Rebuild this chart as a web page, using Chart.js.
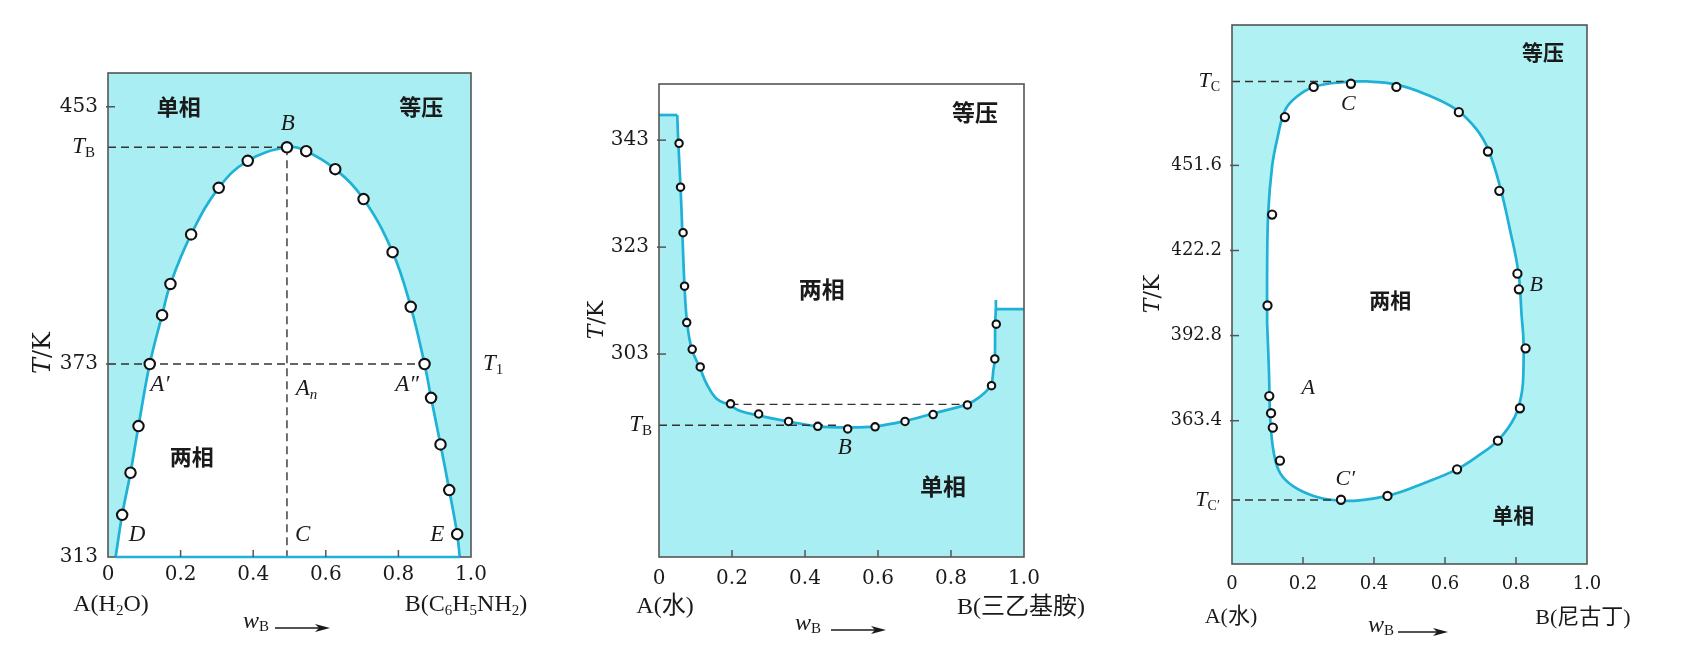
<!DOCTYPE html>
<html><head><meta charset="utf-8">
<script src="https://cdn.jsdelivr.net/npm/chart.js@4.4.0/dist/chart.umd.min.js"></script>
<style>
html,body{margin:0;padding:0;background:#fff;width:1702px;height:671px;overflow:hidden}
canvas{position:absolute;left:0;top:0}
</style></head><body>
<canvas id="c1" width="1702" height="671"></canvas>
<canvas id="c2" width="1702" height="671"></canvas>
<canvas id="c3" width="1702" height="671"></canvas>
<script>
// ---------- data ----------
const xTicks = [0, 0.2, 0.4, 0.6, 0.8, 1.0];

// chart 1: water - aniline
const c1YTicks = [313, 373, 453];
const c1TB = 440.4, c1T1 = 373, c1xB = 0.493;
const c1CurveX = [0.021, 0.039, 0.062, 0.084, 0.115, 0.149, 0.172, 0.229, 0.305, 0.385, 0.493, 0.546, 0.626, 0.704, 0.784, 0.834, 0.872, 0.890, 0.916, 0.940, 0.962, 0.969];
const c1CurveT = [313, 326.1, 339.2, 353.7, 373, 388.2, 397.9, 413.3, 427.8, 436.2, 440.4, 439.2, 433.6, 424.3, 407.8, 390.8, 373, 362.5, 348.0, 333.8, 320.1, 313];
const c1PtsX = [0.039, 0.062, 0.084, 0.115, 0.149, 0.172, 0.229, 0.305, 0.385, 0.493, 0.546, 0.626, 0.704, 0.784, 0.834, 0.872, 0.890, 0.916, 0.940, 0.962];
const c1PtsT = [326.1, 339.2, 353.7, 373, 388.2, 397.9, 413.3, 427.8, 436.2, 440.4, 439.2, 433.6, 424.3, 407.8, 390.8, 373, 362.5, 348.0, 333.8, 320.1];

// chart 2: water - triethylamine
const c2YTicks = [303, 323, 343];
const c2TB = 289.7, c2Tie = 293.6;
const c2LeftEdgeX = [0, 0.050], c2LeftEdgeT = [347.7, 347.7];
const c2LeftFillX = [0, 0.050, 0.054], c2LeftFillT = [347.7, 347.7, 330.0];
const c2CurveX = [0.050, 0.053, 0.059, 0.064, 0.070, 0.077, 0.090, 0.113, 0.130, 0.157, 0.192, 0.221, 0.267, 0.355, 0.435, 0.514, 0.592, 0.674, 0.751, 0.843, 0.879, 0.909, 0.916, 0.920, 0.921, 0.923];
const c2CurveT = [347.7, 342.4, 334.3, 325.7, 315.6, 308.9, 303.9, 300.3, 297.5, 294.7, 293.5, 292.4, 291.6, 290.4, 289.5, 289.3, 289.5, 290.5, 291.9, 293.6, 295.0, 297.2, 300.0, 302.1, 308.7, 311.4];
const c2RightEdgeX = [0.923, 0.923, 1.0], c2RightEdgeT = [313.1, 311.4, 311.4];
const c2RightFillX = [0.918, 0.923, 1.0], c2RightFillT = [300.0, 311.4, 311.4];
const c2PtsX = [0.055, 0.059, 0.066, 0.070, 0.076, 0.091, 0.113, 0.196, 0.273, 0.355, 0.435, 0.517, 0.592, 0.674, 0.751, 0.845, 0.911, 0.920, 0.924];
const c2PtsT = [342.4, 334.2, 325.7, 315.7, 308.9, 303.9, 300.6, 293.7, 291.8, 290.4, 289.5, 289.0, 289.4, 290.4, 291.7, 293.5, 297.1, 302.1, 308.6];

// chart 3: water - nicotine
const c3YTicks = [363.4, 392.8, 422.2, 451.6];
const c3TC = 480.6, c3TC2 = 336.0;
const c3LoopX = [0.099, 0.099, 0.102, 0.113, 0.127, 0.150, 0.183, 0.230, 0.305, 0.380, 0.465, 0.549, 0.633, 0.690, 0.722, 0.755, 0.783, 0.807, 0.816, 0.821, 0.821, 0.816, 0.797, 0.750, 0.690, 0.633, 0.540, 0.446, 0.352, 0.286, 0.230, 0.174, 0.136, 0.118, 0.108, 0.104, 0.099];
const c3LoopT = [397.0, 416.7, 435.2, 451.3, 460.5, 470.8, 475.4, 478.7, 480.3, 480.6, 479.5, 476.0, 470.8, 463.9, 457.0, 444.3, 429.4, 414.4, 399.4, 391.3, 380.9, 372.9, 364.8, 356.7, 351.0, 346.6, 341.8, 337.7, 335.8, 336.0, 337.4, 340.6, 345.2, 352.1, 363.6, 380.9, 397.0];
const c3PtsX = [0.230, 0.335, 0.463, 0.639, 0.721, 0.753, 0.804, 0.808, 0.827, 0.811, 0.749, 0.634, 0.438, 0.307, 0.135, 0.115, 0.110, 0.105, 0.100, 0.113, 0.149];
const c3PtsT = [478.7, 479.8, 478.7, 470.0, 456.4, 442.8, 414.2, 408.8, 388.4, 367.7, 356.5, 346.6, 337.4, 336.1, 349.6, 361.0, 366.0, 371.9, 403.2, 434.6, 468.3];

// ---------- styles ----------
const CYAN = '#a9eef2', CYAN3 = '#b0f1f4', LINE = '#1fb1d6', FRAME = '#555', INK = '#1a1a1a';
const R = s => `${s}px "DejaVu Serif", "Noto Sans CJK SC"`;
const L = s => `${s}px "Liberation Serif", "Noto Sans CJK SC"`;
const I = s => `italic ${s}px "Liberation Serif"`;
const DI = s => `italic ${s}px "DejaVu Serif"`;
const H = s => `bold ${s}px "Noto Sans CJK SC"`;
const pts = (xs, ys) => xs.map((x, i) => ({x, y: ys[i]}));

function drawRich(ctx, parts, x, y, align) {
  let w = 0;
  for (const p of parts) { ctx.font = p[1]; w += ctx.measureText(p[0]).width; }
  let cx = align === 'right' ? x - w : align === 'left' ? x : x - w / 2;
  ctx.textAlign = 'left'; ctx.textBaseline = 'middle';
  for (const p of parts) { ctx.font = p[1]; ctx.fillText(p[0], cx, y + (p[2] || 0)); cx += ctx.measureText(p[0]).width; }
}
function drawArrow(ctx, x1, x2, y) {
  ctx.lineWidth = 1.4;
  ctx.beginPath(); ctx.moveTo(x1, y); ctx.lineTo(x2 - 6, y); ctx.stroke();
  ctx.beginPath(); ctx.moveTo(x2, y); ctx.lineTo(x2 - 15, y - 4); ctx.lineTo(x2 - 11, y); ctx.lineTo(x2 - 15, y + 4); ctx.closePath(); ctx.fill();
}

const deco = {
  id: 'deco',
  beforeDatasetsDraw(chart, args, o) {
    const {ctx, chartArea: a} = chart;
    ctx.save(); ctx.fillStyle = o.bg; ctx.fillRect(a.left, a.top, a.right - a.left, a.bottom - a.top); ctx.restore();
  },
  afterDatasetsDraw(chart, args, o) {
    const {ctx, chartArea: a, scales: {x, y}} = chart;
    ctx.save();
    ctx.strokeStyle = FRAME; ctx.lineWidth = 1.6;
    ctx.strokeRect(a.left, a.top, a.right - a.left, a.bottom - a.top);
    if (o.foot) {
      ctx.strokeStyle = LINE; ctx.lineWidth = 2.6;
      ctx.beginPath(); ctx.moveTo(x.getPixelForValue(o.foot[0]), a.bottom); ctx.lineTo(x.getPixelForValue(o.foot[1]), a.bottom); ctx.stroke();
    }
    ctx.strokeStyle = FRAME; ctx.lineWidth = 1.5;
    x.ticks.forEach(t => {
      if (t.value <= x.min || t.value >= x.max) return;
      const px = x.getPixelForValue(t.value);
      ctx.beginPath(); ctx.moveTo(px, a.bottom); ctx.lineTo(px, a.bottom - 7); ctx.stroke();
    });
    y.ticks.forEach(t => {
      const py = y.getPixelForValue(t.value);
      if (py >= a.bottom - 1) return;
      ctx.beginPath(); ctx.moveTo(a.left - 2, py); ctx.lineTo(a.left + 7, py); ctx.stroke();
    });
    ctx.restore();
  },
  afterDraw(chart, args, o) {
    const {ctx, chartArea: a, scales: {x, y}} = chart;
    ctx.save(); ctx.fillStyle = INK; ctx.strokeStyle = INK;
    (o.notes || []).forEach(n => drawRich(ctx, n.p, x.getPixelForValue(n.x), y.getPixelForValue(n.y), 'center'));
    (o.side || []).forEach(s => {
      const px = s.edge === 'right' ? a.right + s.dx : a.left - s.dx;
      drawRich(ctx, s.p, px, y.getPixelForValue(s.v), s.edge === 'right' ? 'left' : 'right');
    });
    (o.caps || []).forEach(c => {
      if (c.rot) { ctx.save(); ctx.translate(c.px, c.py); ctx.rotate(-Math.PI / 2); drawRich(ctx, c.p, 0, 0, 'center'); ctx.restore(); }
      else drawRich(ctx, c.p, c.px, c.py, c.align || 'center');
    });
    if (o.arrow) drawArrow(ctx, o.arrow[0], o.arrow[1], o.arrow[2]);
    ctx.restore();
  }
};

function markers(xs, ys, r) {
  return {data: pts(xs, ys), showLine: false, pointRadius: r, pointBackgroundColor: '#fff', pointBorderColor: '#111', pointBorderWidth: 2.1, pointHoverRadius: r, order: 0};
}
function dashed(x1, x2, y1, y2) {
  return {data: [{x: x1, y: y1}, {x: x2, y: y2}], borderColor: '#333', borderWidth: 1.4, borderDash: [8, 5], pointRadius: 0, tension: 0, fill: false, order: 1};
}
function curve(xs, ys, tension, fill, bg, order, bw) {
  return {data: pts(xs, ys), borderColor: LINE, borderWidth: bw === undefined ? 2.7 : bw, tension, fill, backgroundColor: bg, pointRadius: 0, order};
}

function makeChart(id, c) {
  return new Chart(document.getElementById(id), {
    type: 'line',
    data: {datasets: c.datasets},
    options: {
      responsive: false, animation: false, events: [],
      layout: {padding: c.pad},
      plugins: {legend: {display: false}, tooltip: {enabled: false}, deco: c.deco},
      scales: {
        x: {
          type: 'linear', min: 0, max: 1,
          afterBuildTicks: s => { s.ticks = xTicks.map(v => ({value: v})); },
          afterFit: s => { s.height = 40; },
          grid: {display: false, drawTicks: false}, border: {display: false},
          ticks: {autoSkip: false, maxRotation: 0, padding: c.xpad, color: INK, font: {family: 'DejaVu Serif', size: c.fs}, callback: v => v === 0 ? '0' : v.toFixed(1)}
        },
        y: {
          type: 'linear', min: c.ymin, max: c.ymax,
          afterBuildTicks: s => { s.ticks = c.yTicks.map(v => ({value: v})); },
          afterFit: s => { s.width = 60; },
          grid: {display: false, drawTicks: false}, border: {display: false},
          ticks: {autoSkip: false, padding: c.ypad, color: INK, font: {family: 'DejaVu Serif', size: c.fs}, callback: v => String(v)}
        }
      }
    },
    plugins: [deco]
  });
}

// ---------- chart 1 ----------
makeChart('c1', {
  pad: {left: 48, top: 73, right: 1231, bottom: 74},
  ymin: 313, ymax: 463.5, yTicks: c1YTicks, fs: 20, xpad: 6, ypad: 10,
  datasets: [
    markers(c1PtsX, c1PtsT, 5.2),
    dashed(0, c1xB, c1TB, c1TB),
    dashed(c1xB, c1xB, c1TB, 313),
    dashed(0, c1CurveX[16], c1T1, c1T1),
    curve(c1CurveX, c1CurveT, 0.4, 'start', '#ffffff', 2)
  ],
  deco: {
    bg: CYAN, foot: [c1CurveX[0], c1CurveX[c1CurveX.length - 1]],
    notes: [
      {x: 0.195, y: 452.9, p: [['单相', H(22)]]},
      {x: 0.863, y: 452.9, p: [['等压', H(22)]]},
      {x: 0.495, y: 447.6, p: [['B', I(23)]]},
      {x: 0.143, y: 366.5, p: [['A′', I(23)]]},
      {x: 0.547, y: 365.2, p: [['A', I(23)], ['n', I(15), 6]]},
      {x: 0.824, y: 366.5, p: [['A″', I(23)]]},
      {x: 0.231, y: 344.1, p: [['两相', H(22)]]},
      {x: 0.080, y: 319.8, p: [['D', I(23)]]},
      {x: 0.536, y: 319.8, p: [['C', I(23)]]},
      {x: 0.907, y: 319.8, p: [['E', I(23)]]}
    ],
    side: [
      {v: c1TB, edge: 'left', dx: 13, p: [['T', I(23)], ['B', L(15), 6]]},
      {v: c1T1, edge: 'right', dx: 12, p: [['T', I(23)], ['1', L(15), 6]]}
    ],
    caps: [
      {rot: true, px: 43.5, py: 353, p: [['T', DI(24)], ['/K', R(24)]]},
      {px: 111, py: 605, p: [['A(H', L(24)], ['2', L(15), 6], ['O)', L(24)]]},
      {px: 466, py: 605, p: [['B(C', L(24)], ['6', L(15), 6], ['H', L(24)], ['5', L(15), 6], ['NH', L(24)], ['2', L(15), 6], [')', L(24)]]},
      {px: 243, py: 621.5, align: 'left', p: [['w', I(24)], ['B', L(15), 6]]}
    ],
    arrow: [275, 330, 628]
  }
});

// ---------- chart 2 ----------
makeChart('c2', {
  pad: {left: 599, top: 84, right: 678, bottom: 74},
  ymin: 265.06, ymax: 353.5, yTicks: c2YTicks, fs: 20, xpad: 10, ypad: 10,
  datasets: [
    markers(c2PtsX, c2PtsT, 3.7),
    dashed(0, 0.49, c2TB, c2TB),
    dashed(c2PtsX[7], c2PtsX[15], c2Tie, c2Tie),
    curve(c2CurveX, c2CurveT, 0.4, 'start', CYAN, 2),
    curve(c2LeftEdgeX, c2LeftEdgeT, 0, false, CYAN, 2),
    curve(c2RightEdgeX, c2RightEdgeT, 0, false, CYAN, 2),
    curve(c2LeftFillX, c2LeftFillT, 0, 'start', CYAN, 4, 0),
    curve(c2RightFillX, c2RightFillT, 0, 'start', CYAN, 4, 0)
  ],
  deco: {
    bg: '#ffffff',
    notes: [
      {x: 0.866, y: 348.2, p: [['等压', H(23)]]},
      {x: 0.446, y: 315.1, p: [['两相', H(23)]]},
      {x: 0.509, y: 285.4, p: [['B', I(23)]]},
      {x: 0.778, y: 278.3, p: [['单相', H(23)]]}
    ],
    side: [
      {v: c2TB, edge: 'left', dx: 7, p: [['T', I(23)], ['B', L(15), 6]]}
    ],
    caps: [
      {rot: true, px: 597, py: 320, p: [['T', DI(22)], ['/K', R(22)]]},
      {px: 665, py: 607, p: [['A(水)', L(24)]]},
      {px: 1021, py: 608, p: [['B(三乙基胺)', L(24)]]},
      {px: 795, py: 623.5, align: 'left', p: [['w', I(24)], ['B', L(15), 6]]}
    ],
    arrow: [831, 886, 630]
  }
});

// ---------- chart 3 ----------
makeChart('c3', {
  pad: {left: 1172, top: 25, right: 115, bottom: 67},
  ymin: 313.9, ymax: 500.1, yTicks: c3YTicks, fs: 18, xpad: 10, ypad: 10,
  datasets: [
    markers(c3PtsX, c3PtsT, 4.1),
    dashed(0, 0.314, c3TC, c3TC),
    dashed(0, 0.30, c3TC2, c3TC2),
    curve(c3LoopX, c3LoopT, 0.4, 'shape', '#ffffff', 2)
  ],
  deco: {
    bg: CYAN3,
    notes: [
      {x: 0.876, y: 490.8, p: [['等压', H(21)]]},
      {x: 0.446, y: 405.0, p: [['两相', H(21)]]},
      {x: 0.857, y: 410.2, p: [['B', I(22)]]},
      {x: 0.328, y: 472.8, p: [['C', I(22)]]},
      {x: 0.215, y: 374.7, p: [['A', I(22)]]},
      {x: 0.319, y: 343.3, p: [['C′', I(22)]]},
      {x: 0.792, y: 330.8, p: [['单相', H(21)]]}
    ],
    side: [
      {v: c3TC, edge: 'left', dx: 12, p: [['T', I(22)], ['C', L(14), 6]]},
      {v: c3TC2, edge: 'left', dx: 12, p: [['T', I(22)], ['C′', L(14), 6]]}
    ],
    caps: [
      {rot: true, px: 1153, py: 294, p: [['T', DI(22)], ['/K', R(22)]]},
      {px: 1231, py: 617, p: [['A(水)', L(22)]]},
      {px: 1583, py: 618, p: [['B(尼古丁)', L(22)]]},
      {px: 1368, py: 625.5, align: 'left', p: [['w', I(24)], ['B', L(15), 6]]}
    ],
    arrow: [1398, 1448, 632]
  }
});
</script>
</body></html>
